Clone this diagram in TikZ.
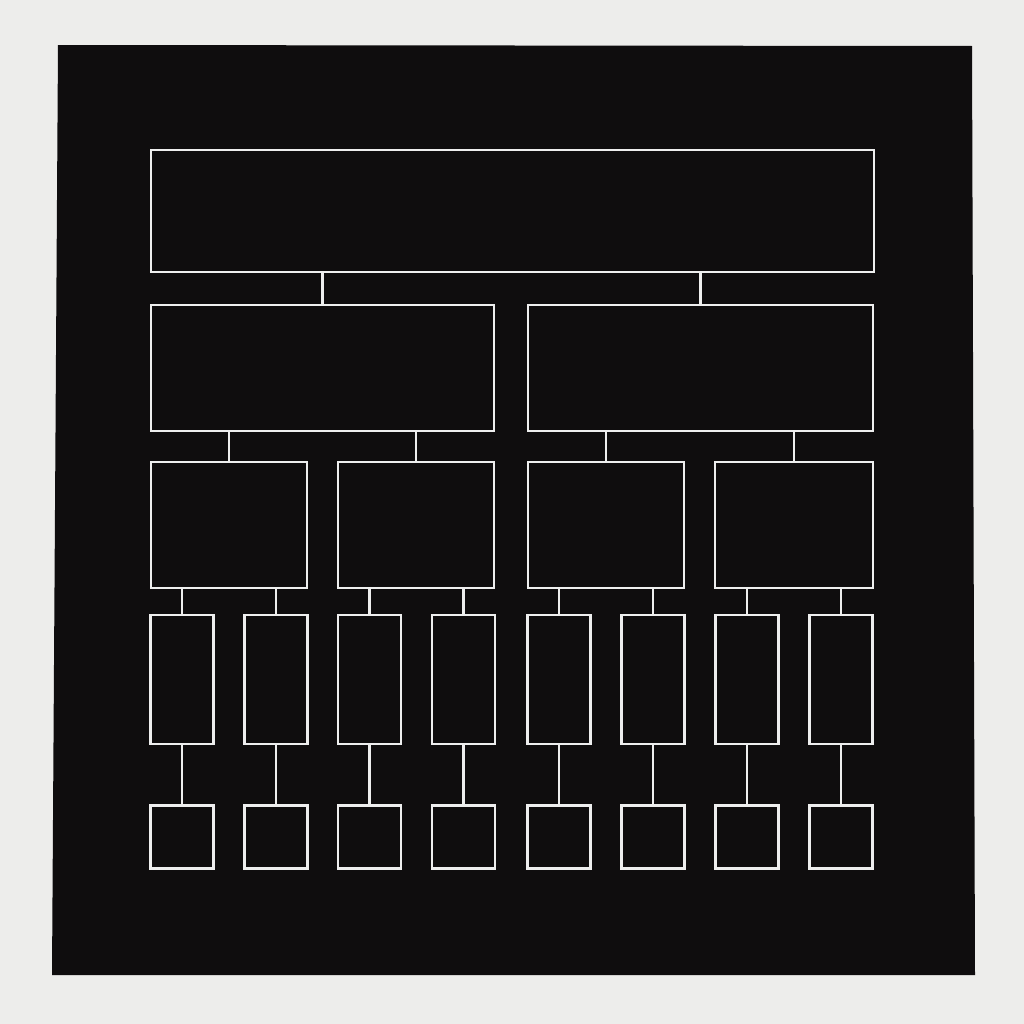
\documentclass[tikz,border=0pt]{standalone}
\usetikzlibrary{positioning}
\definecolor{paper}{HTML}{EDEDEB}
\definecolor{ink}{HTML}{0F0D0E}
\definecolor{chalk}{HTML}{EEEEEE}

\begin{document}
\begin{tikzpicture}[x=0.01cm, y=-0.01cm, node distance=10pt,
    box/.style={draw=chalk, line width=0.7pt, inner sep=0pt},
    link/.style={draw=chalk, line width=0.7pt}]
  \fill[paper] (0,0) rectangle (1024,1024);
  \fill[ink] (58,45) -- (972,46) -- (975,975) -- (52,975) -- cycle;

  \node[box, minimum width=7.23cm, minimum height=1.22cm] (T) at (512.5,211) {};
  \node[box, minimum width=3.43cm, minimum height=1.26cm] (L) at (322.5,368) {};
  \node[box, minimum width=3.45cm, minimum height=1.26cm] (R) at (700.5,368) {};
  \node[box, minimum width=1.56cm, minimum height=1.26cm] (L1) at (229,525) {};
  \node[box, minimum width=1.56cm, minimum height=1.26cm] (L2) at (416,525) {};
  \node[box, minimum width=1.56cm, minimum height=1.26cm] (R1) at (606,525) {};
  \node[box, minimum width=1.58cm, minimum height=1.26cm] (R2) at (794,525) {};
  \node[box, minimum width=0.63cm, minimum height=1.29cm] (A) at (182,679.5) {};
  \node[box, minimum width=0.63cm, minimum height=1.29cm] (B) at (276,679.5) {};
  \node[box, minimum width=0.63cm, minimum height=1.29cm] (C) at (369.5,679.5) {};
  \node[box, minimum width=0.63cm, minimum height=1.29cm] (D) at (463.5,679.5) {};
  \node[box, minimum width=0.63cm, minimum height=1.29cm] (E) at (559,679.5) {};
  \node[box, minimum width=0.63cm, minimum height=1.29cm] (F) at (653,679.5) {};
  \node[box, minimum width=0.63cm, minimum height=1.29cm] (G) at (747,679.5) {};
  \node[box, minimum width=0.63cm, minimum height=1.29cm] (H) at (841,679.5) {};
  \node[box, minimum size=0.63cm, below=0.59cm of A] (A1) {};
  \node[box, minimum size=0.63cm, below=0.59cm of B] (B1) {};
  \node[box, minimum size=0.63cm, below=0.59cm of C] (C1) {};
  \node[box, minimum size=0.63cm, below=0.59cm of D] (D1) {};
  \node[box, minimum size=0.63cm, below=0.59cm of E] (E1) {};
  \node[box, minimum size=0.63cm, below=0.59cm of F] (F1) {};
  \node[box, minimum size=0.63cm, below=0.59cm of G] (G1) {};
  \node[box, minimum size=0.63cm, below=0.59cm of H] (H1) {};

  \draw[link] (L.north) -- (L.north |- T.south);
  \draw[link] (R.north) -- (R.north |- T.south);
  \draw[link] (L1.north) -- (L1.north |- L.south);
  \draw[link] (L2.north) -- (L2.north |- L.south);
  \draw[link] (R1.north) -- (R1.north |- R.south);
  \draw[link] (R2.north) -- (R2.north |- R.south);
  \draw[link] (A.north) -- (A.north |- L1.south);
  \draw[link] (B.north) -- (B.north |- L1.south);
  \draw[link] (C.north) -- (C.north |- L2.south);
  \draw[link] (D.north) -- (D.north |- L2.south);
  \draw[link] (E.north) -- (E.north |- R1.south);
  \draw[link] (F.north) -- (F.north |- R1.south);
  \draw[link] (G.north) -- (G.north |- R2.south);
  \draw[link] (H.north) -- (H.north |- R2.south);

  \draw[link] (A) -- (A1);
  \draw[link] (B) -- (B1);
  \draw[link] (C) -- (C1);
  \draw[link] (D) -- (D1);
  \draw[link] (E) -- (E1);
  \draw[link] (F) -- (F1);
  \draw[link] (G) -- (G1);
  \draw[link] (H) -- (H1);
\end{tikzpicture}
\end{document}
